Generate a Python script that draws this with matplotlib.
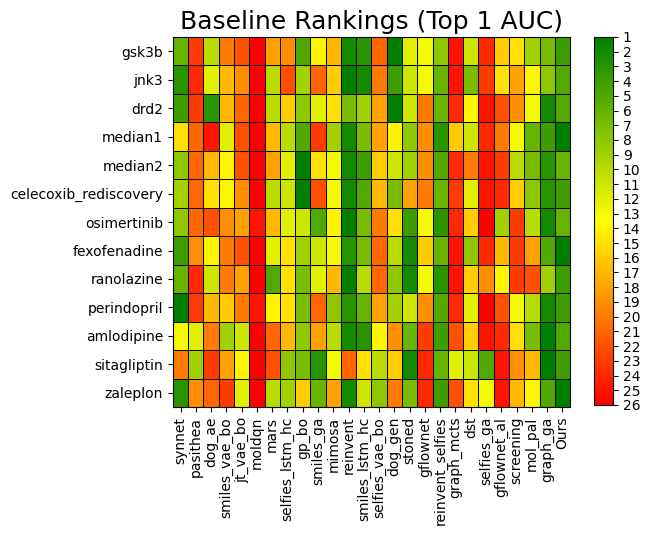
import numpy as np
import matplotlib
matplotlib.use("Agg")
import matplotlib.pyplot as plt
from matplotlib.colors import LinearSegmentedColormap

methods = ["synnet", "pasithea", "dog_ae", "smiles_vae_bo", "jt_vae_bo", "moldqn",
           "mars", "selfies_lstm_hc", "gp_bo", "smiles_ga", "mimosa", "reinvent",
           "smiles_lstm_hc", "selfies_vae_bo", "dog_gen", "stoned", "gflownet",
           "reinvent_selfies", "graph_mcts", "dst", "selfies_ga", "gflownet_al",
           "screening", "mol_pal", "graph_ga", "Ours"]

tasks = ["gsk3b", "jnk3", "drd2", "median1", "median2", "celecoxib_rediscovery",
         "osimertinib", "fexofenadine", "ranolazine", "perindopril", "amlodipine",
         "sitagliptin", "zaleplon"]

# rank of each method per task (1 = best)
gsk3b = [6, 23, 10, 20, 22, 26, 18, 19, 5, 14, 17, 2, 3, 21, 1, 12, 13, 8, 25, 11, 24, 16, 15, 9, 7, 4]
jnk3 = [3, 24, 12, 17, 19, 26, 10, 22, 9, 21, 16, 1, 2, 20, 4, 11, 13, 6, 25, 7, 23, 15, 18, 14, 8, 5]
drd2 = [4, 23, 3, 17, 21, 26, 10, 16, 8, 12, 15, 7, 9, 18, 1, 11, 20, 6, 24, 14, 25, 22, 19, 13, 2, 5]
median1 = [15, 21, 25, 12, 22, 26, 17, 10, 5, 23, 9, 2, 7, 18, 14, 8, 19, 3, 16, 11, 24, 20, 13, 6, 4, 1]
median2 = [8, 21, 17, 14, 22, 26, 18, 12, 1, 15, 13, 2, 4, 16, 11, 9, 19, 5, 24, 20, 25, 23, 10, 7, 3, 6]
celecoxib = [9, 21, 15, 14, 19, 26, 10, 11, 1, 22, 13, 2, 5, 17, 7, 18, 20, 6, 23, 12, 25, 24, 16, 8, 3, 4]
osimertinib = [8, 21, 22, 19, 18, 25, 17, 12, 11, 5, 14, 1, 7, 20, 15, 4, 13, 3, 24, 16, 26, 9, 23, 10, 2, 6]
fexofenadine = [4, 19, 14, 20, 22, 26, 12, 15, 9, 11, 13, 3, 7, 21, 10, 2, 16, 6, 25, 8, 24, 17, 23, 18, 5, 1]
ranolazine = [6, 24, 11, 20, 18, 26, 5, 15, 7, 12, 17, 1, 10, 21, 8, 2, 13, 3, 25, 16, 19, 14, 23, 22, 9, 4]
perindopril = [1, 23, 17, 16, 20, 25, 14, 15, 7, 21, 8, 3, 6, 18, 9, 11, 19, 5, 24, 12, 26, 22, 13, 10, 2, 4]
amlodipine = [13, 12, 20, 9, 11, 26, 21, 17, 8, 18, 10, 2, 3, 14, 19, 6, 23, 4, 22, 16, 25, 24, 15, 7, 1, 5]
sitagliptin = [20, 9, 23, 18, 14, 26, 22, 8, 7, 3, 13, 21, 15, 10, 16, 2, 24, 6, 12, 11, 5, 25, 19, 17, 1, 4]
zaleplon = [3, 19, 21, 23, 12, 26, 10, 9, 16, 6, 18, 2, 11, 8, 20, 7, 24, 4, 22, 15, 13, 25, 17, 14, 5, 1]

ranks = np.array([gsk3b, jnk3, drd2, median1, median2, celecoxib, osimertinib,
                  fexofenadine, ranolazine, perindopril, amlodipine, sitagliptin, zaleplon])

cmap = LinearSegmentedColormap.from_list("rank", ["green", "yellow", "red"])

fig = plt.figure(figsize=(6.5, 5.35), dpi=100)
ax = fig.add_axes([0.266, 0.239, 0.611, 0.692])
mesh = ax.pcolormesh(ranks, cmap=cmap, vmin=1, vmax=26, edgecolors="black", linewidth=0.7)
ax.set_xlim(0, len(methods))
ax.set_ylim(len(tasks), 0)
ax.set_xticks(np.arange(len(methods)) + 0.5)
ax.set_xticklabels(methods, rotation=90, fontsize=10)
ax.set_yticks(np.arange(len(tasks)) + 0.5)
ax.set_yticklabels(tasks, fontsize=10)
ax.set_title("Baseline Rankings (Top 1 AUC)", fontsize=18)

cax = fig.add_axes([0.914, 0.243, 0.029, 0.688])
cb = fig.colorbar(mesh, cax=cax, ticks=np.arange(1, 27))
cb.ax.invert_yaxis()
cb.ax.tick_params(labelsize=10)

fig.savefig("out.png", dpi=100)
